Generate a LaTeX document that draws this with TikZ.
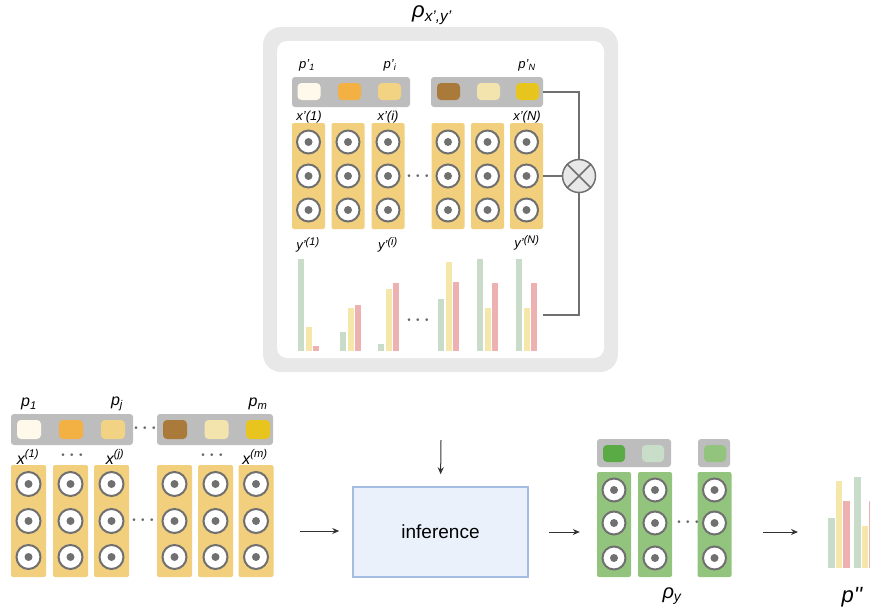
\documentclass[tikz,border=0pt]{standalone}
\usepackage{fontspec}
\setmainfont{Liberation Sans}
\usetikzlibrary{arrows.meta}

\definecolor{colyel}{HTML}{F1CF7D}
\definecolor{colgrn}{HTML}{93C47D}
\definecolor{palgray}{HTML}{BDBDBD}
\definecolor{ringgray}{HTML}{707070}
\definecolor{framegray}{HTML}{E8E8E8}
\definecolor{sw1}{HTML}{FFF9EC}
\definecolor{sw2}{HTML}{F2B142}
\definecolor{sw3}{HTML}{F2D283}
\definecolor{sw4}{HTML}{A97A3A}
\definecolor{sw5}{HTML}{F3E4AE}
\definecolor{sw6}{HTML}{E8C41E}
\definecolor{swg1}{HTML}{5AAA45}
\definecolor{swg2}{HTML}{C8DEC8}
\definecolor{swg3}{HTML}{93C47D}
\definecolor{bgreen}{HTML}{C9DCC9}
\definecolor{byel}{HTML}{F5E6A9}
\definecolor{bred}{HTML}{EEB1B1}
\definecolor{inffill}{HTML}{EAF1FB}
\definecolor{infdraw}{HTML}{A6BDE3}
\definecolor{arrgray}{HTML}{333333}

\begin{document}
\begin{tikzpicture}[x=1pt,y=-1pt,
  colbox/.style={rectangle,rounded corners=2pt,fill=colyel,minimum width=34pt,minimum height=107pt,inner sep=0pt},
  ring/.style={circle,draw=ringgray,line width=2pt,fill=white,minimum size=23pt,inner sep=0pt,
    path picture={\fill[ringgray] (path picture bounding box.center) circle (4pt);}},
  palette/.style={rectangle,rounded corners=3pt,fill=palgray,minimum height=30pt,inner sep=0pt},
  swatch/.style={rectangle,rounded corners=4pt,minimum width=23pt,minimum height=17pt,inner sep=0pt},
  lbl/.style={font=\fontsize{13}{15}\selectfont\itshape,inner sep=0pt},
  biglbl/.style={font=\fontsize{22}{26}\selectfont\itshape,inner sep=0pt},
  dots/.style={text=ringgray!90!black,font=\fontsize{18}{20}\selectfont\boldmath,inner sep=0pt},
  conn/.style={draw=ringgray,line width=1.2pt},
  arr/.style={draw=arrgray,line width=1pt,-{Stealth[length=7pt,width=6pt]}}
]
\useasboundingbox (0,0) rectangle (870,611);

% joint density frame
\node[rectangle,rounded corners=18pt,fill=framegray,minimum width=355pt,minimum height=345pt] (joint) at (440.5,199.5) {};
\node[rectangle,rounded corners=10pt,fill=white,minimum width=327pt,minimum height=317pt] (jointin) at (440.5,199.5) {};
\node[biglbl] (rhoxy) at (432,15) {ρ\textsubscript{x',y'}};

% top palettes
\node[palette,minimum width=118pt] (pt1) at (351,92) {};
\node[palette,minimum width=112pt] (pt2) at (487,92) {};
\node[swatch,fill=sw1] (st1) at (309,91.5) {};
\node[swatch,fill=sw2] (st2) at (349.5,91.5) {};
\node[swatch,fill=sw3] (st3) at (389.5,91.5) {};
\node[swatch,fill=sw4] (st4) at (448.5,91.5) {};
\node[swatch,fill=sw5] (st5) at (488.5,91.5) {};
\node[swatch,fill=sw6] (st6) at (527.5,91.5) {};
\node[lbl] (lp1) at (307,65) {p'\textsubscript{1}};
\node[lbl] (lpi) at (390,65) {p'\textsubscript{i}};
\node[lbl] (lpN) at (527,65) {p'\textsubscript{N}};

% top columns
\node[lbl] (lx1) at (309,117) {x'(1)};
\node[lbl] (lxi) at (388,117) {x'(i)};
\node[lbl] (lxN) at (527,117) {x'(N)};
\foreach \n/\x in {1/308.5,2/348,3/388,4/448,5/487.5,6/526.5}{
  \node[colbox,minimum width=33pt,minimum height=106pt] (xt\n) at (\x,176) {};
  \foreach \yy in {142,176,210}
    \node[ring] (xt\n r\yy) at (\x,\yy) {};
}
\node[dots] (dt1) at (418,176) {$\cdots$};

% top bars
\foreach \x/\g/\yy/\r in {298/259/327/346,340/332/308/305,378/344/289/283,438/299/262/282,477/259/308/283,516/259/308/283}{
  \fill[bgreen] (\x,351) rectangle ++(6,\g-351);
  \fill[byel] (\x+7.5,351) rectangle ++(6,\yy-351);
  \fill[bred] (\x+15,351) rectangle ++(6,\r-351);
}
\node[dots] (dt2) at (418,320) {$\cdots$};
\node[lbl] (ly1) at (308,245) {y'\textsuperscript{\fontsize{11}{13}\selectfont(1)}};
\node[lbl] (lyi) at (388,245) {y'\textsuperscript{\fontsize{11}{13}\selectfont(i)}};
\node[lbl] (lyN) at (527,243) {y'\textsuperscript{\fontsize{11}{13}\selectfont(N)}};
\coordinate (yN) at (543,315);

% product
\node[circle,draw=ringgray,line width=1.5pt,fill=framegray,minimum size=33pt,inner sep=0pt] (prod) at (579,176) {};
\draw[ringgray,line width=1.5pt] (prod.north west) -- (prod.south east) (prod.north east) -- (prod.south west);
\draw[conn] (pt2.east) -| (prod.north);
\draw[conn] (xt6.east) -- (prod.west);
\draw[conn] (prod.south) |- (yN);

% bottom palettes
\node[palette,minimum width=122pt,minimum height=31pt] (pb1) at (72,429.5) {};
\node[palette,minimum width=116pt,minimum height=31pt] (pb2) at (215,429.5) {};
\node[swatch,fill=sw1,minimum width=24pt,minimum height=19pt] (sb1) at (29,429.5) {};
\node[swatch,fill=sw2,minimum width=24pt,minimum height=19pt] (sb2) at (71,429.5) {};
\node[swatch,fill=sw3,minimum width=24pt,minimum height=19pt] (sb3) at (113,429.5) {};
\node[swatch,fill=sw4,minimum width=24pt,minimum height=19pt] (sb4) at (175,429.5) {};
\node[swatch,fill=sw5,minimum width=24pt,minimum height=19pt] (sb5) at (216.5,429.5) {};
\node[swatch,fill=sw6,minimum width=24pt,minimum height=19pt] (sb6) at (258,429.5) {};
\node[dots] (db1) at (145,428) {$\cdots$};
\node[lbl,font=\fontsize{16}{18}\selectfont\itshape] (lpb1) at (29,404) {p\textsubscript{1}};
\node[lbl,font=\fontsize{16}{18}\selectfont\itshape] (lpbj) at (117,404) {p\textsubscript{j}};
\node[lbl,font=\fontsize{16}{18}\selectfont\itshape] (lpbm) at (258,404) {p\textsubscript{m}};

% bottom columns
\node[lbl,font=\fontsize{16}{18}\selectfont\itshape] (lxb1) at (28,457) {x\textsuperscript{(1)}};
\node[dots] (db2) at (72,455) {$\cdots$};
\node[lbl,font=\fontsize{16}{18}\selectfont\itshape] (lxbj) at (115,457) {x\textsuperscript{(j)}};
\node[dots] (db3) at (212,455) {$\cdots$};
\node[lbl,font=\fontsize{16}{18}\selectfont\itshape] (lxbm) at (255,457) {x\textsuperscript{(m)}};
\foreach \n/\x in {1/28.5,2/70.5,3/111.5,4/174.5,5/215.5,6/256}{
  \node[colbox,minimum width=35pt,minimum height=112pt] (xb\n) at (\x,521) {};
  \foreach \yy in {484,521,557}
    \node[ring,minimum size=24pt] (xb\n r\yy) at (\x,\yy) {};
}
\node[dots] (db4) at (143,520) {$\cdots$};

% inference
\node[rectangle,draw=infdraw,line width=1.5pt,fill=inffill,minimum width=175pt,minimum height=90pt,
  font=\fontsize{19}{23}\selectfont] (infer) at (440.5,532) {inference};
\coordinate (inL) at (300,531);
\coordinate (inT) at (441,440);
\draw[arr,shorten >=13pt] (inL) -- (infer.west |- inL);
\draw[arr,shorten >=12pt] (inT) -- (infer.north);

% output columns
\node[palette,minimum width=74pt,minimum height=28pt] (pg1) at (634,453) {};
\node[palette,minimum width=32pt,minimum height=28pt] (pg2) at (714,453) {};
\node[swatch,fill=swg1,minimum width=22pt] (sg1) at (614,453.5) {};
\node[swatch,fill=swg2,minimum width=22pt] (sg2) at (653,453.5) {};
\node[swatch,fill=swg3,minimum width=22pt] (sg3) at (715,453.5) {};
\foreach \n/\x in {1/614,2/655,3/714.5}{
  \node[colbox,fill=colgrn,minimum width=34pt,minimum height=105pt] (gy\n) at (\x,524.5) {};
  \foreach \yy in {490,523,558}
    \node[ring] (gy\n r\yy) at (\x,\yy) {};
}
\node[dots] (dg1) at (688,522) {$\cdots$};
\node[biglbl,font=\fontsize{20}{24}\selectfont\itshape] (rhoy) at (672,596) {ρ\textsubscript{y}};
\draw[arr,shorten <=20pt,shorten >=17pt] (infer.east) -- (infer.east -| gy1.west);

% output distribution
\coordinate (pout) at (798,532);
\draw[arr] ([xshift=31pt]gy3.east |- pout) -- (pout);
\foreach \x/\g/\yy/\r in {828/518/481/501,854/477/526/501}{
  \fill[bgreen] (\x,568) rectangle ++(6.5,\g-568);
  \fill[byel] (\x+7.5,568) rectangle ++(6.5,\yy-568);
  \fill[bred] (\x+15,568) rectangle ++(6.5,\r-568);
}
\node[biglbl] (pdd) at (852,597) {p\textquotesingle\textquotesingle};
\end{tikzpicture}
\end{document}
